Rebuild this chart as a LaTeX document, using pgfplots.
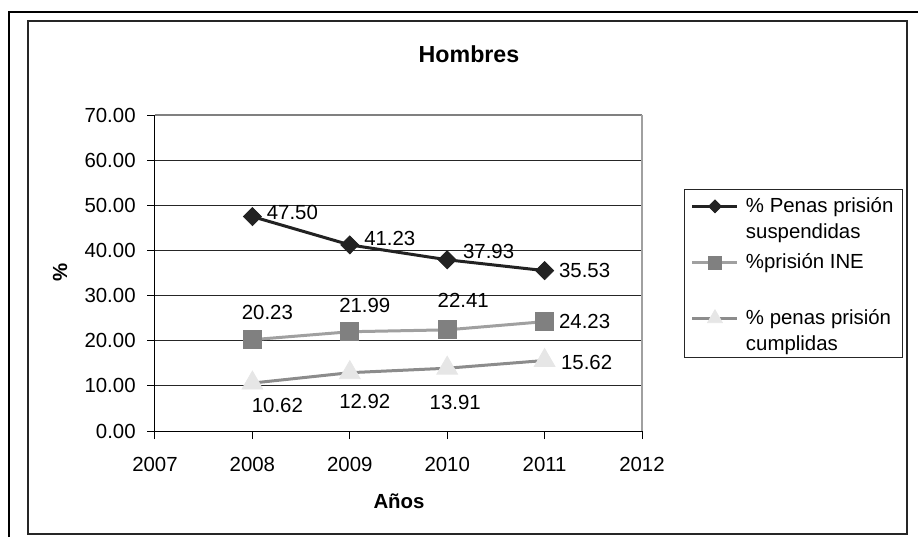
\documentclass[border=0pt]{standalone}
\usepackage{fontspec}
\setmainfont{Liberation Sans}
\usepackage{pgfplots}
\pgfplotsset{compat=1.18}
\definecolor{sone}{HTML}{222222}
\definecolor{stwoline}{HTML}{A0A0A0}
\definecolor{stwomark}{HTML}{808080}
\definecolor{sthreeline}{HTML}{8C8C8C}
\definecolor{sthreemark}{HTML}{E6E6E6}
\newcommand\legtxt[2]{\raisebox{0pt}[11.7pt][16.3pt]{\vtop{\baselineskip=13pt\hbox to 76pt{#1\hfil}\hbox{#2}}}}
\begin{document}
\begin{tikzpicture}[font=\fontsize{10.2}{12.2}\selectfont]
\path[use as bounding box] (0,0) rectangle (459pt,-268.5pt);
\draw[line width=1pt, black] (4.5pt,-268.5pt) -- (4.5pt,-6pt) -- (459pt,-6pt);
\draw[line width=0.6pt, black!85] (14pt,-10.5pt) rectangle (453.5pt,-267pt);
\draw[line width=0.5pt, black!85] (342pt,-94.5pt) rectangle (451pt,-178.5pt);
\begin{axis}[
  at={(77.5pt,-215.5pt)}, anchor=south west,
  scale only axis, width=243.5pt, height=158pt,
  xmin=2007, xmax=2012, ymin=0, ymax=70,
  xtick={2007,2008,2009,2010,2011,2012},
  ytick={0,10,20,30,40,50,60,70},
  axis lines*=left,
  axis line style={black, line width=0.5pt, -},
  tick align=outside,
  major tick length=4pt,
  tick style={black, line width=0.5pt},
  ymajorgrids,
  major grid style={black!85, line width=0.5pt},
  /pgf/number format/assume math mode=true,
  y tick label style={/pgf/number format/fixed, /pgf/number format/zerofill, /pgf/number format/precision=2, anchor=east, inner sep=0pt, xshift=-5.5pt},
  x tick label style={/pgf/number format/1000 sep={}, anchor=north, inner sep=0pt, yshift=-8.85pt},
  after end axis/.code={
    \draw[color=stwomark, line width=0.75pt] (rel axis cs:0,1) -- (rel axis cs:1,1);
    \draw[color=stwoline, line width=0.75pt] (rel axis cs:1,1) -- (rel axis cs:1,0);
  },
  legend style={at={(rel axis cs:1.0862,0.7658)}, anchor=north west, draw=none, fill=none, inner xsep=3.3pt, inner ysep=0pt, column sep=3.5pt, row sep={28pt,between origins}, cells={anchor=base west}, nodes={inner sep=0pt, text=black}},
  legend image code/.code={\draw[mark repeat=2,mark phase=2,#1, every mark/.append style={scale=0.72}] plot coordinates {(0pt,3.2pt) (11.25pt,3.2pt) (22.5pt,3.2pt)};},
  nodes near coords,
  point meta=explicit symbolic,
  visualization depends on={value \thisrow{dx}\as\lblx},
  visualization depends on={value \thisrow{dy}\as\lbly},
  every node near coord/.append style={anchor=center, xshift=\lblx, yshift=\lbly, text=black, inner sep=0pt},
]
\addplot[color=sone, line width=1.5pt, mark=diamond*, mark size=4.5pt,
  mark options={solid, xscale=1.33, fill=sone, draw=sone, line width=0.4pt}]
  table[x=x, y=y, meta=lab] {
x y lab dx dy
2008 47.50 47.50 20 2
2009 41.23 41.23 20 3
2010 37.93 37.93 20.7 4
2011 35.53 35.53 20 0
};
\addlegendentry{\legtxt{\% Penas prisión}{suspendidas}}
\addplot[color=stwoline, line width=1.5pt, mark=square*, mark size=4.5pt,
  mark options={solid, fill=stwomark, draw=stwomark, line width=0.4pt}]
  table[x=x, y=y, meta=lab] {
x y lab dx dy
2008 20.23 20.23 7.5 13.5
2009 21.99 21.99 7.5 13
2010 22.41 22.41 8 14.5
2011 24.23 24.23 20 0
};
\addlegendentry{\legtxt{\%prisión INE}{}}
\addplot[color=sthreeline, line width=1.5pt, mark=triangle*, mark size=6pt,
  mark options={solid, fill=sthreemark, draw=sthreemark, line width=0.4pt}]
  table[x=x, y=y, meta=lab] {
x y lab dx dy
2008 10.62 10.62 12.5 -11
2009 12.92 12.92 7.5 -14.5
2010 13.91 13.91 4 -17
2011 15.62 15.62 21 -1
};
\addlegendentry{\legtxt{\% penas prisión}{cumplidas}}
\end{axis}
\node[font=\fontsize{11.6}{14}\selectfont\bfseries] at (234.5pt,-27pt) {Hombres};
\node[font=\fontsize{10.2}{12.2}\selectfont\bfseries, rotate=90] at (30pt,-136pt) {\%};
\node[font=\fontsize{10.2}{12.2}\selectfont\bfseries] at (199.5pt,-250.5pt) {Años};
\end{tikzpicture}
\end{document}
